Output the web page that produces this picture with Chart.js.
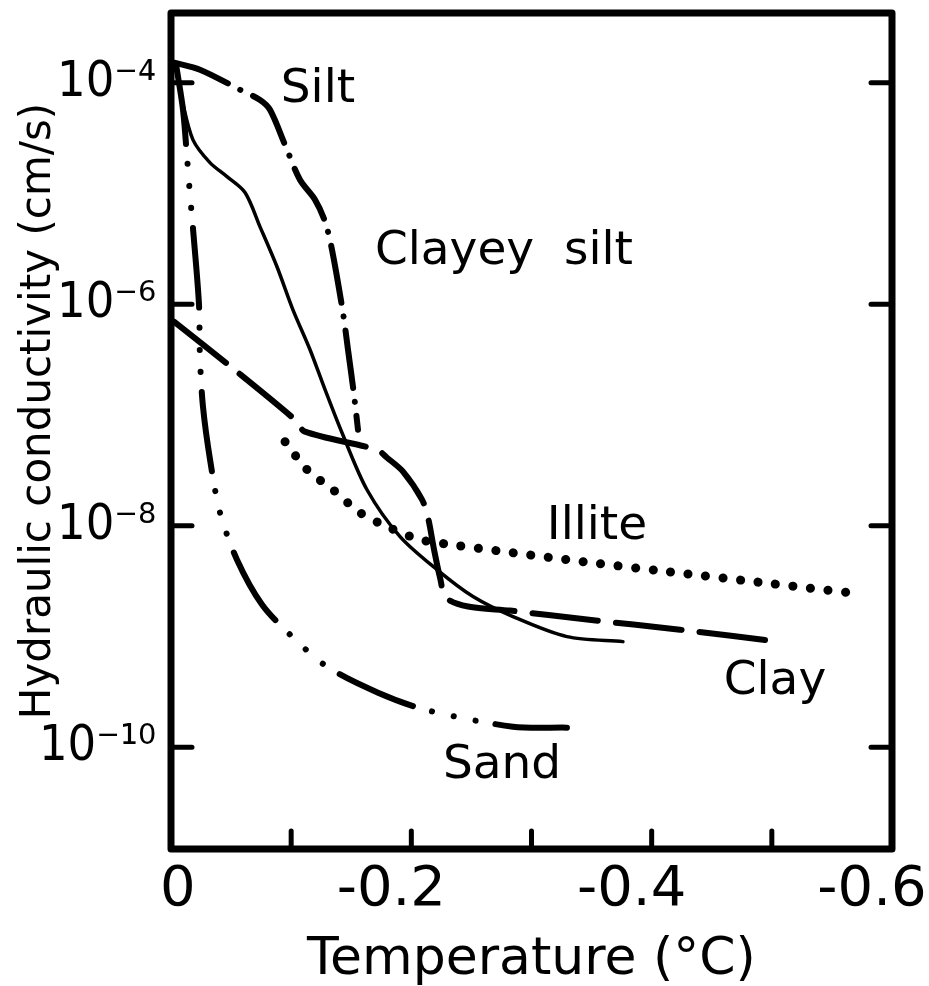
<!DOCTYPE html>
<html>
<head>
<meta charset="utf-8">
<title>Hydraulic conductivity of frozen soils</title>
<script src="https://cdn.jsdelivr.net/npm/chart.js@4.4.1/dist/chart.umd.min.js"></script>
<style>
  html, body { margin: 0; padding: 0; background: #fff; }
  #wrap { width: 929px; height: 986px; }
</style>
</head>
<body>
<div id="wrap"><canvas id="conductivityChart" width="929" height="986"></canvas></div>
<script>
// temperature (°C) / hydraulic conductivity (cm/s) pairs along each curve
const clayeySiltTemp = [-0.0042, -0.0092, -0.0183, -0.0324, -0.0466, -0.0616, -0.0741, -0.0882, -0.1015, -0.1157, -0.1282, -0.1423, -0.1631, -0.1906, -0.2213, -0.2513, -0.2846, -0.3295, -0.3761];
const clayeySiltK = [1.31e-4, 7.0e-5, 3.05e-5, 1.90e-5, 1.42e-5, 1.02e-5, 5.0e-6, 2.18e-6, 8.9e-7, 3.88e-7, 1.69e-7, 6.9e-8, 2.11e-8, 7.96e-9, 4.01e-9, 2.29e-9, 1.51e-9, 9.95e-10, 8.97e-10];

const siltTemp = [-0.0025, -0.0241, -0.0574, -0.0741, -0.0824, -0.0949, -0.1073, -0.1198, -0.1282, -0.1340, -0.1431, -0.1473, -0.1523, -0.1556];
const siltK = [1.52e-4, 1.31e-4, 8.65e-5, 7.0e-5, 5.7e-5, 2.75e-5, 1.33e-5, 8.8e-6, 5.56e-6, 3.10e-6, 8.4e-7, 3.88e-7, 1.52e-7, 7.36e-8];

const clayTemp = [-0.0025, -0.0508, -0.1032, -0.1115, -0.1714, -0.1798, -0.1931, -0.2089, -0.2139, -0.2189, -0.2239, -0.2288, -0.2472, -0.2821, -0.3462, -0.4236, -0.5051];
const clayK = [6.95e-7, 2.67e-7, 9.06e-8, 7.06e-8, 4.85e-8, 4.11e-8, 3.08e-8, 1.72e-8, 1.18e-8, 6.07e-9, 3.39e-9, 2.24e-9, 1.86e-9, 1.71e-9, 1.42e-9, 1.15e-9, 8.97e-10];

const illiteTemp = [-0.0949, -0.1132, -0.1348, -0.1573, -0.1798, -0.2072, -0.2338, -0.2838, -0.3429, -0.4128, -0.5001, -0.5650];
const illiteK = [5.73e-8, 3.21e-8, 2.11e-8, 1.31e-8, 9.8e-9, 7.48e-9, 6.73e-9, 5.70e-9, 4.73e-9, 3.85e-9, 2.99e-9, 2.48e-9];

const sandTemp = [-0.0042, -0.0100, -0.0133, -0.0158, -0.0191, -0.0233, -0.0241, -0.0266, -0.0325, -0.0408, -0.0549, -0.0757, -0.0990, -0.1298, -0.1723, -0.2114, -0.2846, -0.3295];
const sandK = [1.46e-4, 5.7e-5, 2.15e-5, 9.75e-6, 3.82e-6, 9.9e-7, 3.29e-7, 1.19e-7, 3.94e-8, 1.31e-8, 4.93e-9, 1.94e-9, 1.04e-9, 5.33e-10, 3.10e-10, 2.18e-10, 1.53e-10, 1.50e-10];

// axes
const xTickValues = [0, -0.1, -0.2, -0.3, -0.4, -0.5, -0.6];
const xTickLabels = ['   0', '', '-0.2', '', '-0.4', '', '-0.6'];
const yTickValues = [1e-10, 1e-8, 1e-6, 1e-4];
const yTickLabels = ['10⁻¹⁰', '10⁻⁸', '10⁻⁶', '10⁻⁴'];

const FONT = '"DejaVu Sans", sans-serif';
const NARROW = '"Liberation Sans Narrow", "DejaVu Sans Condensed", "DejaVu Sans", sans-serif';

function pairs(temps, ks) {
  return temps.map((t, i) => ({ x: t, y: ks[i] }));
}

// box around the plot with inward tick marks on left, right and bottom
const framePlugin = {
  id: 'frame',
  afterDatasetsDraw(chart) {
    const { ctx, chartArea: a, scales } = chart;
    ctx.save();
    ctx.strokeStyle = '#000';
    ctx.lineCap = 'round';
    ctx.lineJoin = 'round';
    ctx.lineWidth = 5;
    yTickValues.forEach(v => {
      const py = scales.y.getPixelForValue(v);
      ctx.beginPath();
      ctx.moveTo(a.left, py); ctx.lineTo(a.left + 21, py);
      ctx.moveTo(a.right, py); ctx.lineTo(a.right - 21, py);
      ctx.stroke();
    });
    xTickValues.slice(1, -1).forEach(v => {
      const px = scales.x.getPixelForValue(v);
      ctx.beginPath();
      ctx.moveTo(px, a.bottom); ctx.lineTo(px, a.bottom - 18);
      ctx.stroke();
    });
    ctx.lineWidth = 7;
    ctx.strokeRect(a.left, a.top, a.right - a.left, a.bottom - a.top);
    ctx.restore();
  }
};

// curve names written next to each line
const curveNames = [
  { text: 'Silt', x: -0.1223, y: 8.65e-5 },
  { text: 'Clayey  silt', x: -0.2771, y: 2.98e-6 },
  { text: 'Illite', x: -0.3545, y: 9.8e-9 },
  { text: 'Clay', x: -0.5026, y: 3.9e-10 },
  { text: 'Sand', x: -0.2755, y: 6.8e-11 }
];

const namePlugin = {
  id: 'curveNames',
  afterDraw(chart) {
    const { ctx, scales } = chart;
    ctx.save();
    ctx.fillStyle = '#000';
    ctx.font = '47px ' + FONT;
    ctx.textAlign = 'center';
    ctx.textBaseline = 'middle';
    curveNames.forEach(n => {
      ctx.fillText(n.text, scales.x.getPixelForValue(n.x), scales.y.getPixelForValue(n.y));
    });
    ctx.restore();
  }
};

const lineBase = {
  pointRadius: 0,
  fill: false,
  tension: 0.3,
  borderColor: '#000',
  borderCapStyle: 'round',
  borderJoinStyle: 'round'
};

const ctx = document.getElementById('conductivityChart').getContext('2d');
new Chart(ctx, {
  type: 'line',
  data: {
    datasets: [
      Object.assign({}, lineBase, { label: 'Clayey silt', data: pairs(clayeySiltTemp, clayeySiltK), borderWidth: 3.5 }),
      Object.assign({}, lineBase, { label: 'Silt', data: pairs(siltTemp, siltK), borderWidth: 6, borderDash: [58, 14, 0.1, 14] }),
      Object.assign({}, lineBase, { label: 'Clay', data: pairs(clayTemp, clayK), borderWidth: 6, borderDash: [66, 18] }),
      Object.assign({}, lineBase, { label: 'Illite', data: pairs(illiteTemp, illiteK), borderWidth: 9, borderDash: [0.1, 17.5] }),
      Object.assign({}, lineBase, { label: 'Sand', data: pairs(sandTemp, sandK), borderWidth: 6, borderDash: [80, 20, 0.1, 22, 0.1, 22, 0.1, 20] })
    ]
  },
  options: {
    responsive: false,
    devicePixelRatio: 1,
    animation: false,
    layout: { padding: { top: 13, right: 37, left: 0, bottom: 0 } },
    plugins: {
      legend: { display: false },
      tooltip: { enabled: false }
    },
    scales: {
      x: {
        type: 'linear',
        min: -0.6,
        max: 0,
        reverse: true,
        grid: { display: false },
        border: { display: false },
        afterBuildTicks: scale => { scale.ticks = xTickValues.map(v => ({ value: v })); },
        afterFit: scale => {
          scale.height = 137;
          scale.paddingLeft = 0;
          scale.paddingRight = 0;
        },
        ticks: {
          autoSkip: false,
          maxRotation: 0,
          padding: 0,
          labelOffset: -20,
          color: '#000',
          font: { family: FONT, size: 56 },
          callback: (value, index) => xTickLabels[index]
        },
        title: {
          display: true,
          text: 'Temperature (°C)',
          color: '#000',
          font: { family: FONT, size: 52 },
          padding: { top: 0, bottom: -6 }
        }
      },
      y: {
        type: 'logarithmic',
        min: Math.pow(10, -10.92),
        max: Math.pow(10, -3.37),
        grid: { display: false },
        border: { display: false },
        afterBuildTicks: scale => { scale.ticks = yTickValues.map(v => ({ value: v })); },
        afterFit: scale => {
          scale.width = 171;
          scale.paddingTop = 0;
          scale.paddingBottom = 0;
        },
        ticks: {
          autoSkip: false,
          padding: 7,
          color: '#000',
          font: { family: NARROW, size: 50 },
          callback: (value, index) => yTickLabels[index]
        },
        title: {
          display: true,
          text: '   Hydraulic conductivity (cm/s)',
          color: '#000',
          font: { family: FONT, size: 42 },
          padding: { top: 14, bottom: 0 }
        }
      }
    }
  },
  plugins: [framePlugin, namePlugin]
});
</script>
</body>
</html>
